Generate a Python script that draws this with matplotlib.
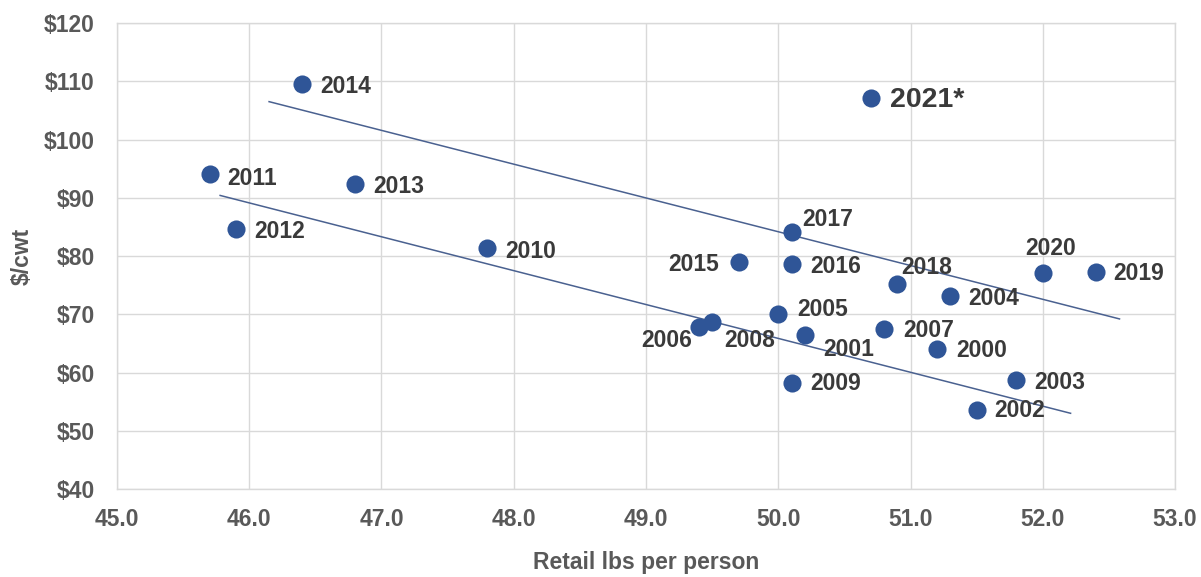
import matplotlib
matplotlib.use("Agg")
import matplotlib.pyplot as plt

plt.rcParams['font.family'] = ['Liberation Sans', 'DejaVu Sans']

# data: retail lbs per person vs $/cwt
years = ['2014', '2021*', '2011', '2013', '2012', '2010', '2017', '2015', '2016',
         '2018', '2004', '2020', '2019', '2005', '2006', '2008', '2001', '2007',
         '2000', '2009', '2003', '2002']
lbs = [46.4, 50.7, 45.7, 46.8, 45.9, 47.8, 50.1, 49.7, 50.1,
       50.9, 51.3, 52.0, 52.4, 50.0, 49.4, 49.5, 50.2, 50.8,
       51.2, 50.1, 51.8, 51.5]
price = [109.6, 107.2, 94.0, 92.3, 84.6, 81.3, 84.1, 79.0, 78.6,
         75.2, 73.1, 77.0, 77.2, 70.0, 67.8, 68.6, 66.4, 67.4,
         64.1, 58.2, 58.7, 53.6]

# trend lines (endpoints)
upper_x = [46.15, 52.58]
upper_y = [106.5, 69.2]
lower_x = [45.78, 52.21]
lower_y = [90.4, 53.0]

# label offsets (pixels) and alignment
offsets = {
    '2014': (18, -3, 'left'), '2021*': (19, -2, 'left'), '2011': (18, -4, 'left'),
    '2013': (18, -2, 'left'), '2012': (18, -2, 'left'), '2010': (18, -3, 'left'),
    '2017': (11, 13, 'left'), '2015': (-20, -3, 'right'), '2016': (19, -2, 'left'),
    '2018': (4, 16, 'left'), '2004': (18, -2, 'left'), '2020': (8, 25, 'center'),
    '2019': (18, -1, 'left'), '2005': (19, 5, 'left'), '2006': (-7, -13, 'right'),
    '2008': (12, -18, 'left'), '2001': (19, -14, 'left'), '2007': (19, -1, 'left'),
    '2000': (19, -2, 'left'), '2009': (19, -1, 'left'), '2003': (18, -2, 'left'),
    '2002': (18, -1, 'left'),
}

fig = plt.figure(figsize=(12.01, 5.77), dpi=100)
ax = fig.add_axes([0.0974, 0.1525, 0.881, 0.8076])

ax.plot(upper_x, upper_y, color='#4A6190', lw=1.1, zorder=2)
ax.plot(lower_x, lower_y, color='#4A6190', lw=1.1, zorder=2)
ax.scatter(lbs, price, s=170, color='#2F5597', zorder=3, linewidths=0)

for yr, x, y in zip(years, lbs, price):
    dx, dy, ha = offsets[yr]
    size = 20.5 if yr == '2021*' else 16.5
    ax.annotate(yr, (x, y), xytext=(dx, dy), textcoords='offset pixels',
                ha=ha, va='center', fontsize=size, fontweight='bold',
                color='#3A3A3A', zorder=4)

ax.set_xlim(45, 53)
ax.set_ylim(40, 120)
ax.set_xticks([45, 46, 47, 48, 49, 50, 51, 52, 53])
ax.set_xticklabels([f'{v:.1f}' for v in range(45, 54)])
ax.set_yticks(range(40, 121, 10))
ax.set_yticklabels([f'${v}' for v in range(40, 121, 10)])
ax.tick_params(length=0, labelsize=16.5, labelcolor='#595959')
ax.tick_params(axis='y', pad=16)
ax.tick_params(axis='x', pad=14)
for lab in ax.get_xticklabels() + ax.get_yticklabels():
    lab.set_fontweight('bold')

ax.grid(True, color='#D9D9D9', lw=1)
ax.set_axisbelow(True)
for sp in ax.spines.values():
    sp.set_color('#D9D9D9')
    sp.set_linewidth(1)

ax.set_xlabel('Retail lbs per person', fontsize=16.5, fontweight='bold',
              color='#595959', labelpad=14)
ax.set_ylabel('$/cwt', fontsize=16.5, fontweight='bold', color='#595959',
              labelpad=7)

fig.savefig('out.png', dpi=100)
